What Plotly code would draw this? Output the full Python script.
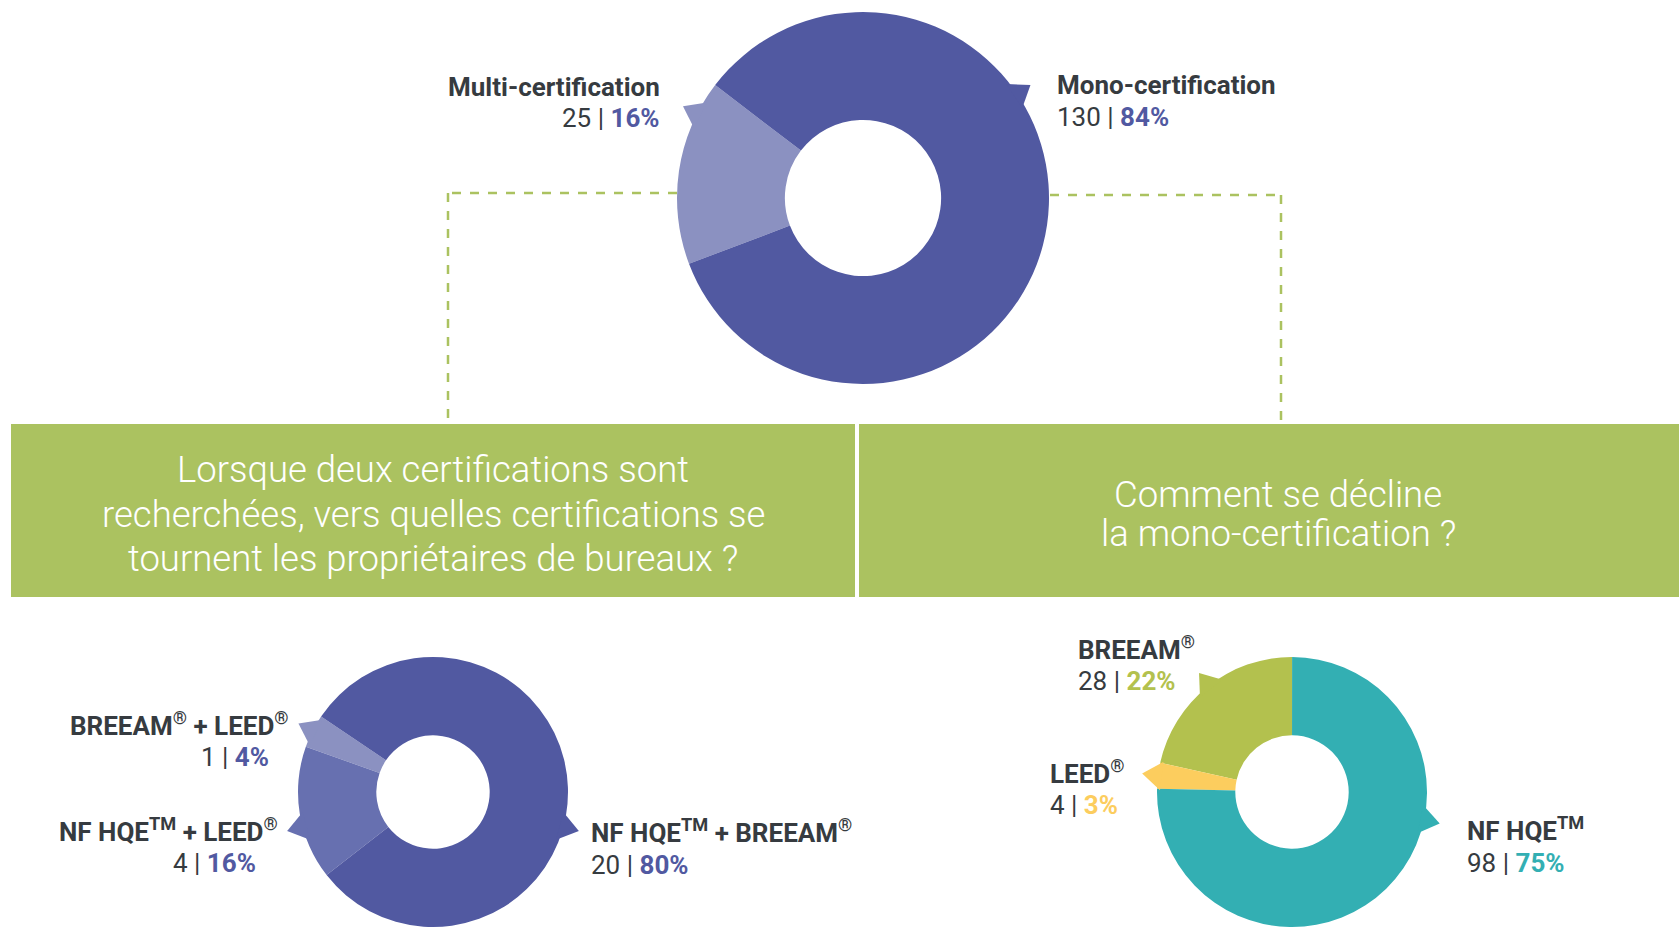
import math

import plotly.graph_objects as go

W, H = 1679, 928

# --- data -------------------------------------------------------------
top_labels = ["Multi-certification", "Mono-certification"]
top_values = [25, 130]

dual_labels = ["BREEAM<sup>®</sup> + LEED<sup>®</sup>",
               "NF HQE<sup>TM</sup> + LEED<sup>®</sup>",
               "NF HQE<sup>TM</sup> + BREEAM<sup>®</sup>"]
dual_values = [1, 4, 20]

mono_labels = ["BREEAM<sup>®</sup>", "LEED<sup>®</sup>", "NF HQE<sup>TM</sup>"]
mono_values = [28, 4, 98]

header_left = ["Lorsque deux certifications sont",
               "recherchées, vers quelles certifications se",
               "tournent les propriétaires de bureaux ?"]
header_right = ["Comment se décline", "la mono-certification ?"]

# --- style ------------------------------------------------------------
PURPLE = "#5159A1"
PURPLE_MID = "#6770B0"
PURPLE_LIGHT = "#8B91C1"
TEAL = "#33AFB3"
YELLOW = "#FCCD5E"
OLIVE = "#B3C14E"
GREEN = "#ABC260"
TEXT = "#363B40"
FONT = "Roboto"

# each donut: centre / radius in px, colours, rotation, pointer angles,
# label spots as (x line1, y line1, x line2, y line2, side)
donuts = [
    dict(labels=top_labels, values=top_values, cx=863, cy=198, r=186,
         colors=[PURPLE_LIGHT, PURPLE], pct_colors=[PURPLE, PURPLE],
         rotation=249.3, pointers=[153, 34],
         spots=[(662, 87, 662, 118, "right"), (1055, 85, 1055, 117, "left")]),
    dict(labels=dual_labels, values=dual_values, cx=433, cy=792, r=135,
         colors=[PURPLE_LIGHT, PURPLE_MID, PURPLE], pct_colors=[PURPLE] * 3,
         rotation=289.6, pointers=[153, 195, -15],
         spots=[(291, 724, 271, 757, "right"), (280, 830, 258, 863, "right"),
                (589, 831, 589, 865, "left")]),
    dict(labels=mono_labels, values=mono_values, cx=1292, cy=792, r=135,
         colors=[OLIVE, YELLOW, TEAL], pct_colors=[OLIVE, YELLOW, TEAL],
         rotation=282.5, pointers=[128, 173, -12],
         spots=[(1076, 648, 1076, 681, "left"), (1048, 772, 1048, 805, "left"),
                (1465, 829, 1465, 863, "left")]),
]


def px(x, y):
    return x / W, 1 - y / H


def note(x, y, text, side, size, color, weight=None):
    ax, ay = px(x, y)
    font = dict(family=FONT, size=size, color=color)
    if weight:
        font["weight"] = weight
    return dict(x=ax, y=ay, xref="paper", yref="paper", showarrow=False,
                xanchor=side, yanchor="middle", align=side, text=text, font=font)


fig = go.Figure()
shapes = []
annotations = []

for d in donuts:
    x0, y1 = px(d["cx"] - d["r"], d["cy"] - d["r"])
    x1, y0 = px(d["cx"] + d["r"], d["cy"] + d["r"])
    fig.add_trace(go.Pie(
        labels=d["labels"], values=d["values"],
        hole=0.42, sort=False, direction="counterclockwise",
        rotation=d["rotation"], textinfo="none", hoverinfo="label+value+percent",
        marker=dict(colors=d["colors"], line=dict(width=0)),
        domain=dict(x=[max(x0, 0), min(x1, 1)], y=[max(y0, 0), min(y1, 1)]),
        showlegend=False,
    ))

    total = sum(d["values"])
    for lab, val, col, pcol, ang, (lx1, ly1, lx2, ly2, side) in zip(
            d["labels"], d["values"], d["colors"], d["pct_colors"],
            d["pointers"], d["spots"]):
        # small callout wedge sticking out of the ring
        pts = []
        for rr, da in [(d["r"] - 3, -4.5), (d["r"] + 16, 0), (d["r"] - 3, 4.5)]:
            a = math.radians(ang + da * 186 / d["r"])
            pts.append(px(d["cx"] + rr * math.cos(a), d["cy"] - rr * math.sin(a)))
        path = "M {} {} L {} {} L {} {} Z".format(*[c for p in pts for c in p])
        shapes.append(dict(type="path", path=path, xref="paper", yref="paper",
                           fillcolor=col, line=dict(width=0), layer="above"))

        pct = round(val / total * 100)
        annotations.append(note(lx1, ly1, "<b>{}</b>".format(lab), side, 26, TEXT))
        annotations.append(note(
            lx2, ly2,
            "{} | <b><span style='color:{}'>{}%</span></b>".format(val, pcol, pct),
            side, 26, TEXT))

# green header boxes
for bx0, bx1 in [(11, 855), (859, 1679)]:
    a0, b1 = px(bx0, 424)
    a1, b0 = px(bx1, 597)
    shapes.append(dict(type="rect", xref="paper", yref="paper", x0=a0, x1=a1,
                       y0=b0, y1=b1, fillcolor=GREEN, line=dict(width=0),
                       layer="below"))

# dashed connectors
for path_px in [[(677, 193), (448, 193), (448, 420)],
                [(1050, 195), (1281, 195), (1281, 420)]]:
    for (xa, ya), (xb, yb) in zip(path_px[:-1], path_px[1:]):
        p0, q0 = px(xa, ya)
        p1, q1 = px(xb, yb)
        shapes.append(dict(type="line", xref="paper", yref="paper",
                           x0=p0, y0=q0, x1=p1, y1=q1, layer="below",
                           line=dict(color=GREEN, width=2.5, dash="dash")))

for line, hy in zip(header_left, [469, 514, 558]):
    annotations.append(note(433, hy, line, "center", 36.5, "white", 300))
for line, hy in zip(header_right, [494, 533]):
    annotations.append(note(1278, hy, line, "center", 36.5, "white", 300))

fig.update_layout(
    width=W, height=H,
    margin=dict(l=0, r=0, t=0, b=0),
    paper_bgcolor="white", plot_bgcolor="white",
    shapes=shapes, annotations=annotations,
)

fig.write_html("out.html", config={"displayModeBar": False},
               post_script="document.body.style.margin='0';")
